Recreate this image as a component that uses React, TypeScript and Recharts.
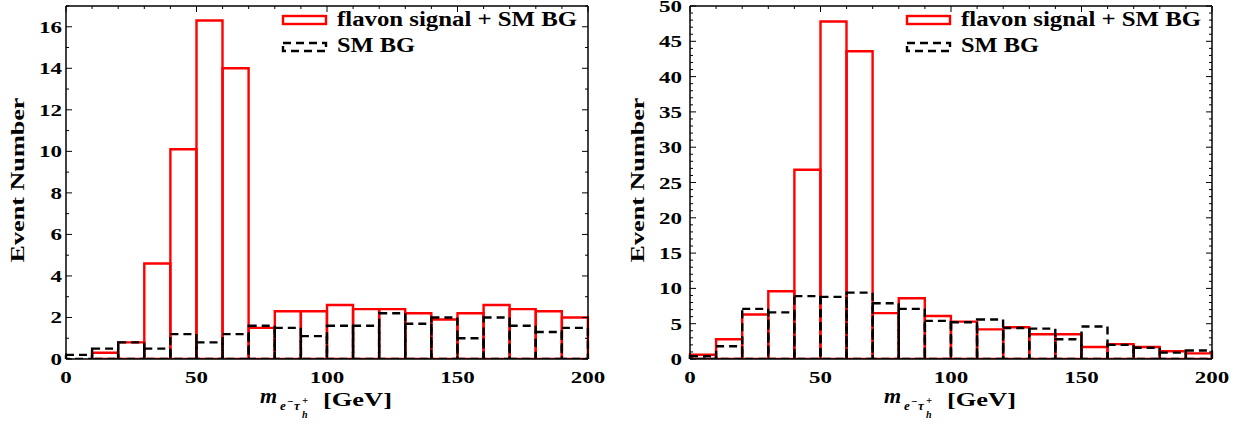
import React from 'react';
import { ComposedChart, Bar, XAxis, YAxis } from 'recharts';

// bin lower edges (GeV), 10 GeV wide
const binStarts = [0, 10, 20, 30, 40, 50, 60, 70, 80, 90, 100, 110, 120, 130, 140, 150, 160, 170, 180, 190];
const BIN_W = 10;

const leftSignal = [0, 0.3, 0.8, 4.6, 10.1, 16.3, 14.0, 1.5, 2.3, 2.3, 2.6, 2.4, 2.4, 2.2, 1.9, 2.2, 2.6, 2.4, 2.3, 2.0];
const leftBg = [0.2, 0.5, 0.8, 0.5, 1.2, 0.8, 1.2, 1.6, 1.5, 1.1, 1.6, 1.6, 2.2, 1.7, 2.0, 1.0, 2.0, 1.6, 1.3, 1.5];
const rightSignal = [0.6, 2.8, 6.3, 9.6, 26.8, 47.8, 43.6, 6.5, 8.6, 6.1, 5.3, 4.2, 4.5, 3.5, 3.5, 1.7, 2.1, 1.7, 1.1, 0.8];
const rightBg = [0.4, 1.8, 7.1, 6.6, 8.9, 8.8, 9.4, 7.9, 7.1, 5.4, 5.2, 5.6, 4.4, 4.3, 2.8, 4.6, 2.0, 1.6, 0.9, 1.2];

const leftYTicks = [0, 1, 2, 3, 4, 5, 6, 7, 8, 9, 10, 11, 12, 13, 14, 15, 16, 17];
const rightYTicks = [
  0, 1, 2, 3, 4, 5, 6, 7, 8, 9, 10, 11, 12, 13, 14, 15, 16, 17, 18, 19, 20, 21, 22, 23, 24, 25,
  26, 27, 28, 29, 30, 31, 32, 33, 34, 35, 36, 37, 38, 39, 40, 41, 42, 43, 44, 45, 46, 47, 48, 49, 50,
];

const FONT = '"Liberation Serif", "DejaVu Serif", serif';
const AXIS = { stroke: '#000', strokeWidth: 1.5 };
const DIGIT_W = 11.5;
const PLOT_W = 522;
const BAND = PLOT_W / binStarts.length;
const DASH = '8 5';

const Num = ({ x, y, v, anchor }: { x: number; y: number; v: number; anchor: 'middle' | 'end' }) => {
  const w = String(v).length * DIGIT_W;
  return (
    <text
      x={anchor === 'middle' ? x - w / 2 : x - w}
      y={y}
      fontFamily={FONT}
      fontWeight="bold"
      fontSize={17.5}
      textLength={w}
      lengthAdjust="spacingAndGlyphs"
      fill="#000"
    >
      {v}
    </text>
  );
};

interface PanelProps {
  left: number;
  width: number;
  signal: number[];
  bg: number[];
  yMax: number;
  yTicks: number[];
  yMajor: number;
  labelGap: number;
}

const Panel: React.FC<PanelProps> = ({ left, width, signal, bg, yMax, yTicks, yMajor, labelGap }) => {
  const data = binStarts.map((start, i) => ({ start, signal: signal[i], bg: bg[i] }));
  const last = binStarts[binStarts.length - 1];

  // category ticks sit at bin centres; draw them on the bin edges instead
  const edgeTick = (p: any, dir: number, labels: boolean) => {
    const v = p.payload.value as number;
    const edges = [{ e: v, x: p.x - BAND / 2 }];
    if (v === last) edges.push({ e: v + BIN_W, x: p.x + BAND / 2 });
    return (
      <g>
        {edges.map(({ e, x }) => (
          <g key={e}>
            <line x1={x} x2={x} y1={p.y} y2={p.y + dir * (e % 50 === 0 ? 6 : 3)} stroke="#000" />
            {labels && e % 50 === 0 && <Num x={x} y={p.y + 24} v={e} anchor="middle" />}
          </g>
        ))}
      </g>
    );
  };
  const leftTick = (p: any) => {
    const v = p.payload.value;
    const major = v % yMajor === 0;
    return (
      <g>
        <line x1={p.x} x2={p.x + (major ? 6 : 3)} y1={p.y} y2={p.y} stroke="#000" />
        {major && <Num x={p.x - labelGap} y={p.y + 6} v={v} anchor="end" />}
      </g>
    );
  };
  const rightTick = (p: any) => {
    const major = p.payload.value % yMajor === 0;
    return <line x1={p.x} x2={p.x - (major ? 6 : 3)} y1={p.y} y2={p.y} stroke="#000" />;
  };

  return (
    <div style={{ position: 'absolute', left, top: 0 }}>
      <ComposedChart
        width={width}
        height={432}
        data={data}
        barCategoryGap={0}
        barGap={0}
        margin={{ top: 5, left: 65, right: width - 66 - PLOT_W - 1, bottom: 72 }}
      >
        <XAxis
          xAxisId="a"
          dataKey="start"
          type="category"
          interval={0}
          height={1}
          tickSize={0}
          tickMargin={0}
          tickLine={false}
          tick={(p: any) => edgeTick(p, -1, true)}
          axisLine={AXIS}
        />
        <XAxis
          xAxisId="b"
          dataKey="start"
          type="category"
          orientation="top"
          interval={0}
          height={1}
          tickSize={0}
          tickMargin={0}
          tickLine={false}
          tick={(p: any) => edgeTick(p, 1, false)}
          axisLine={AXIS}
        />
        <YAxis
          yAxisId="l"
          type="number"
          domain={[0, yMax]}
          allowDataOverflow
          ticks={yTicks}
          interval={0}
          width={1}
          tickSize={0}
          tickMargin={0}
          tickLine={false}
          tick={leftTick}
          axisLine={AXIS}
        />
        <YAxis
          yAxisId="r"
          orientation="right"
          type="number"
          domain={[0, yMax]}
          allowDataOverflow
          ticks={yTicks}
          interval={0}
          width={1}
          tickSize={0}
          tickMargin={0}
          tickLine={false}
          tick={rightTick}
          axisLine={AXIS}
        />
        <Bar
          xAxisId="a"
          yAxisId="l"
          dataKey="signal"
          fill="none"
          stroke="#ff0000"
          strokeWidth={2.4}
          isAnimationActive={false}
        />
        <Bar
          xAxisId="b"
          yAxisId="r"
          dataKey="bg"
          fill="none"
          stroke="#000"
          strokeWidth={2.4}
          strokeDasharray={DASH}
          isAnimationActive={false}
        />
      </ComposedChart>
    </div>
  );
};

const Titles: React.FC<{ x0: number; titleX: number }> = ({ x0, titleX }) => {
  const right = x0 + PLOT_W;
  const mx = x0 + 194;
  return (
    <g fontFamily={FONT} fill="#000" fontWeight="bold">
      <rect x={right - 305} y={16} width={43} height={8} fill="none" stroke="#ff0000" strokeWidth={2.4} />
      <text x={right - 251} y={25.5} fontSize={20} textLength={240} lengthAdjust="spacingAndGlyphs">
        flavon signal + SM BG
      </text>
      <rect x={right - 305} y={43} width={43} height={8} fill="none" stroke="#000" strokeWidth={2.4} strokeDasharray={DASH} />
      <text x={right - 251} y={52} fontSize={20} textLength={78} lengthAdjust="spacingAndGlyphs">
        SM BG
      </text>
      <text
        transform={`translate(${titleX},180) rotate(-90)`}
        textAnchor="middle"
        fontSize={19}
        textLength={165}
        lengthAdjust="spacingAndGlyphs"
      >
        Event Number
      </text>
      <text x={mx} y={403} fontSize={22} fontStyle="italic">m</text>
      <text x={mx + 20} y={410} fontSize={13} fontStyle="italic">e</text>
      <text x={mx + 27} y={405} fontSize={11}>−</text>
      <text x={mx + 34} y={410} fontSize={13} fontStyle="italic">τ</text>
      <text x={mx + 42} y={404} fontSize={11}>+</text>
      <text x={mx + 42} y={418} fontSize={10} fontStyle="italic">h</text>
      <text x={mx + 63} y={406} fontSize={19} textLength={69} lengthAdjust="spacingAndGlyphs">[GeV]</text>
    </g>
  );
};

export default function App() {
  return (
    <div style={{ position: 'absolute', left: 0, top: 0, width: 1245, height: 432, background: '#fff' }}>
      <Panel left={0} width={620} signal={leftSignal} bg={leftBg} yMax={17} yTicks={leftYTicks} yMajor={2} labelGap={4} />
      <Panel left={624} width={621} signal={rightSignal} bg={rightBg} yMax={50} yTicks={rightYTicks} yMajor={5} labelGap={8} />
      <svg width={1245} height={432} style={{ position: 'absolute', left: 0, top: 0, pointerEvents: 'none' }}>
        <Titles x0={66} titleX={24} />
        <Titles x0={690} titleX={644} />
      </svg>
    </div>
  );
}
